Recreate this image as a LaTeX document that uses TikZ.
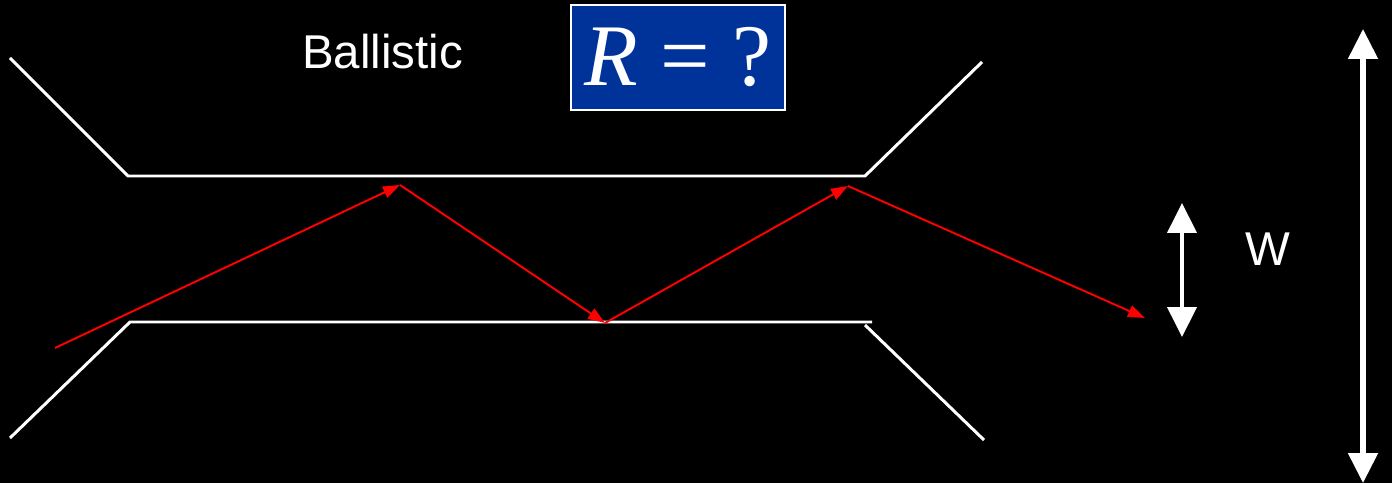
\documentclass[tikz,border=0pt]{standalone}
\usepackage{fontspec}
\setmainfont{Liberation Sans}
\newfontfamily\timesfont{Liberation Serif}
\definecolor{bgblack}{RGB}{0,0,0}
\definecolor{boxblue}{RGB}{0,51,153}
\definecolor{rayred}{RGB}{255,0,0}
\usetikzlibrary{arrows.meta,positioning}

\begin{document}
\begin{tikzpicture}[
  x=0.02cm, y=-0.02cm,
  every node/.style={font=\fontsize{27}{32}\selectfont, text=white},
  wall/.style={draw=white, line width=1.7pt, line join=miter},
  ray/.style={draw=rayred, line width=1.1pt, -{Triangle[length=0.34cm,width=0.24cm]}},
  dimarrow/.style={draw=white, {Triangle[length=0.6cm,width=0.58cm]}-{Triangle[length=0.6cm,width=0.58cm]}},
  qbox/.style={draw=white, line width=1.2pt, fill=boxblue, minimum width=4.28cm,
               minimum height=2.1cm, inner sep=0pt,
               font=\timesfont\fontsize{50}{56}\selectfont},
]
  % Background and bounding box
  \fill[bgblack] (0,0) rectangle (1392,483);
  \useasboundingbox (0,0) rectangle (1392,483);

  % Channel corners
  \coordinate (tl0) at (10,58);
  \coordinate (tl)  at (128,176);
  \coordinate (tr)  at (865,176);
  \coordinate (tr0) at (982,62);
  \coordinate (bl0) at (10,438);
  \coordinate (bl)  at (130,322);
  \coordinate (br)  at (872,322);
  \coordinate (bra) at (865,325);
  \coordinate (br0) at (984,440);

  % Channel walls
  \draw[wall] (tl0) -- (tl) -- (tr) -- (tr0);
  \draw[wall] (bl0) -- (bl) -- (br);
  \draw[wall] (bra) -- (br0);

  % Ray bounce points
  \coordinate (start) at (55,348);
  \coordinate (hit1)  at (400,185);
  \coordinate (hit2)  at (605,323);
  \coordinate (hit3)  at (848,186);
  \coordinate (exit)  at (1145,318);

  % Ray
  \draw[ray] (start) -- (hit1);
  \draw[ray] (hit1) -- (hit2);
  \draw[ray] (hit2) -- (hit3);
  \draw[ray] (hit3) -- (exit);

  % Labels
  \node[anchor=base] (ballistic) at (382.5,69) {Ballistic};
  \node[qbox] (rbox) at (678,57.5) {{\itshape R} = ?};

  % Width arrow
  \coordinate (wtop) at (1182,203);
  \coordinate (wbot) at (1182,337);
  \draw[dimarrow, line width=2.3pt] (wtop) -- (wbot);
  \node[anchor=base] (wlabel) at (1268,265) {W};

  % Tall arrow
  \coordinate (ltop) at (1363,29);
  \coordinate (lbot) at (1363,483);
  \draw[dimarrow, line width=2.9pt] (ltop) -- (lbot);
\end{tikzpicture}
\end{document}
